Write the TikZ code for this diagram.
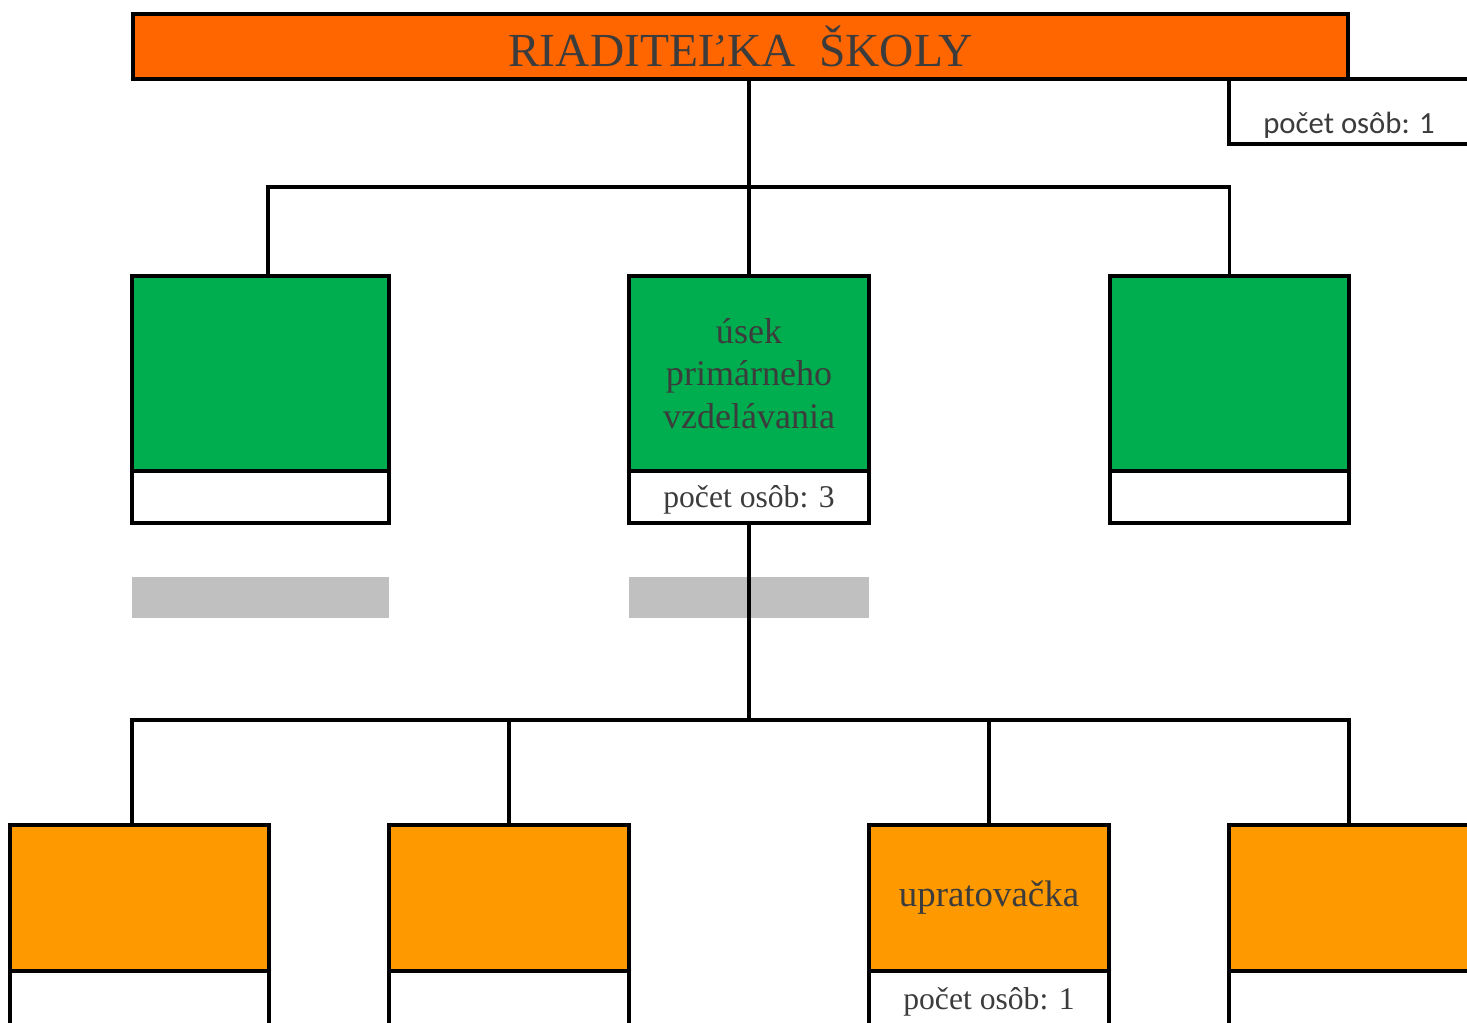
\documentclass[tikz,border=0pt]{standalone}
\usepackage{fontspec}
\setmainfont{Liberation Serif}
\newfontfamily\labelfont{Carlito}
\usepackage{tikz}
\usetikzlibrary{positioning, calc}
\definecolor{orangehead}{HTML}{FF6600}
\definecolor{greensec}{HTML}{00AD4F}
\definecolor{orangestaff}{HTML}{FF9900}
\definecolor{graybar}{HTML}{C0C0C0}
\definecolor{textgray}{HTML}{3C3C3C}
\tikzstyle{riaditel} = [rectangle, minimum width=24.3cm, minimum height=1.3cm, text centered, draw=black, line width=2.2pt, fill=orangehead, text=textgray, outer sep=0pt]
\tikzstyle{usek} = [rectangle, minimum height=3.9cm, text centered, align=center, draw=black, line width=2.1pt, fill=greensec, text=textgray, outer sep=0pt]
\tikzstyle{pocet} = [rectangle, minimum height=1.04cm, text centered, text height=14pt, text depth=2pt, draw=black, line width=1.9pt, fill=white, text=textgray, outer sep=0pt]
\tikzstyle{staff} = [rectangle, minimum height=2.92cm, text centered, draw=black, line width=2.1pt, fill=orangestaff, text=textgray, outer sep=0pt]
\tikzstyle{sedy} = [rectangle, minimum height=0.82cm, fill=graybar, outer sep=0pt]
\tikzstyle{link} = [line width=2pt]

\begin{document}
\begin{tikzpicture}[x=0.02cm, y=-0.02cm]
	\useasboundingbox (0,0) rectangle (1467,1023);
	\clip (0,0) rectangle (1467,1023);
	% riaditelka a useky
	\node (HD) [riaditel, font=\fontsize{27}{32}\selectfont] at (740.5,46.5) {RIADITEĽKA~~ŠKOLY};
	\node (PI) [pocet, minimum width=4.8cm, minimum height=1.3cm, inner sep=0pt, text height=1.0cm, text depth=0.1cm, font=\labelfont\fontsize{17.5}{20}\selectfont] at (1349,111.5) {počet osôb: 1};
	\node (GL) [usek, minimum width=5.14cm] at (260.5,373.5) {};
	\node (GM) [usek, minimum width=4.8cm, font=\fontsize{20.5}{24}\selectfont] at (749,373.5) {úsek\\primárneho\\vzdelávania};
	\node (GR) [usek, minimum width=4.78cm] at (1229.5,373.5) {};
	\node (CL) [pocet, minimum width=5.14cm, below=0pt of GL] {};
	\node (CM) [pocet, minimum width=4.8cm, below=0pt of GM, font=\fontsize{18}{21}\selectfont] {počet osôb: 3};
	\node (CR) [pocet, minimum width=4.78cm, below=0pt of GR] {};
	\node (S1) [sedy, minimum width=5.14cm] at (260.5,597.5) {};
	\node (S2) [sedy, minimum width=4.8cm] at (749,597.5) {};
	% zamestnanci
	\node (O1) [staff, minimum width=5.18cm] at (139.5,898) {};
	\node (O2) [staff, minimum width=4.8cm] at (509,898) {};
	\node (O3) [staff, minimum width=4.8cm, font=\fontsize{21}{25}\selectfont] at (989,898) {upratovačka};
	\node (O4) [staff, minimum width=4.8cm] at (1349,898) {};
	\node (P1) [pocet, minimum width=5.18cm, minimum height=1.1cm, below=0pt of O1] {};
	\node (P2) [pocet, minimum width=4.8cm, minimum height=1.1cm, below=0pt of O2] {};
	\node (P3) [pocet, minimum width=4.8cm, minimum height=1.1cm, below=0pt of O3, font=\fontsize{18}{21}\selectfont] {počet osôb: 1};
	\node (P4) [pocet, minimum width=4.8cm, minimum height=1.1cm, below=0pt of O4] {};
	\coordinate (B1) at (749,187);
	\coordinate (B2) at (749,720);
	\draw [link](HD.south -| GM.north) -- (GM.north);
	\draw [link]($(GL.north)+(7.5,0)$) |- (B1) -| (GR.north);
	\draw [link](CM.south) -- (B2);
	\draw [link]($(O1.north)+(-7.5,0)$) |- (B2) -| (O4.north);
	\draw [link](O2.north) -- (O2.north |- B2);
	\draw [link](O3.north) -- (O3.north |- B2);
\end{tikzpicture}
\end{document}
